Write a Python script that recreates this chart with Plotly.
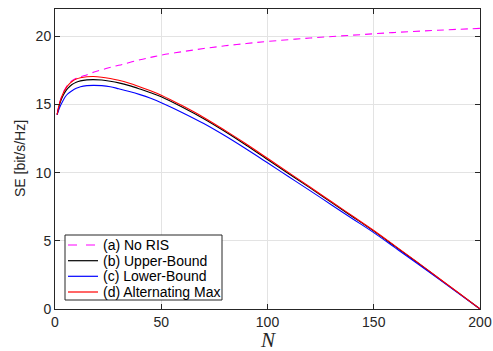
import plotly.graph_objects as go

# ---- data ----
N_no_ris = [1, 2, 3, 4, 5, 6, 8, 10, 12, 14, 17, 20, 24, 28, 32, 40, 45, 50, 60, 70, 80, 90, 100,
            120, 140, 160, 180, 200]
se_no_ris = [14.25, 15.02, 15.53, 15.92, 16.2, 16.43, 16.75, 16.93, 17.03, 17.12, 17.3, 17.45, 17.63,
             17.8, 17.95, 18.28, 18.45, 18.62, 18.87, 19.1, 19.3, 19.47, 19.62,
             19.87, 20.08, 20.28, 20.44, 20.58]

N_grid = [1, 2, 3, 4, 5, 6, 8, 10, 12, 15, 18, 22, 26, 30, 35, 40, 45, 50, 60, 70, 80, 90, 100,
          110, 120, 130, 140, 150, 160, 170, 180, 190, 200]
se_upper = [14.25, 14.92, 15.38, 15.72, 15.98, 16.18, 16.46, 16.63, 16.73, 16.8, 16.82, 16.79, 16.7,
            16.58, 16.38, 16.13, 15.86, 15.56, 14.79, 13.95, 13.01, 12.01, 10.96,
            9.92, 8.88, 7.82, 6.77, 5.71, 4.59, 3.46, 2.31, 1.16, 0.0]
se_lower = [14.25, 14.7, 15.05, 15.35, 15.6, 15.77, 16.0, 16.18, 16.3, 16.38, 16.4, 16.38, 16.3,
            16.15, 15.95, 15.72, 15.45, 15.13, 14.4, 13.6, 12.7, 11.73, 10.72,
            9.7, 8.68, 7.65, 6.62, 5.6, 4.5, 3.39, 2.27, 1.13, 0.0]
se_altmax = [14.25, 15.0, 15.5, 15.88, 16.15, 16.38, 16.68, 16.86, 16.96, 17.03, 17.05, 17.0, 16.9,
             16.77, 16.55, 16.28, 16.0, 15.68, 14.9, 14.05, 13.1, 12.1, 11.05,
             10.0, 8.95, 7.88, 6.82, 5.76, 4.63, 3.49, 2.33, 1.17, 0.0]

x_ticks = [0, 50, 100, 150, 200]
y_ticks = [0, 5, 10, 15, 20]

names = ["(a) No RIS", "(b) Upper-Bound", "(c) Lower-Bound", "(d) Alternating Max"]
colors = ["#ff00ff", "#000000", "#0000ff", "#ff0000"]
dashes = ["7px,5px", "solid", "solid", "solid"]
series = [(N_no_ris, se_no_ris), (N_grid, se_upper), (N_grid, se_lower), (N_grid, se_altmax)]

W, H = 493, 351
ML, MR, MT, MB = 55, 13, 9, 42
PW, PH = W - ML - MR, H - MT - MB

fig = go.Figure()
for (xs, ys), nm, c, d in zip(series, names, colors, dashes):
    fig.add_trace(go.Scatter(x=xs, y=ys, mode="lines", name=nm, showlegend=False,
                             line=dict(color=c, width=1.1, dash=d, shape="spline")))

# ---- manual legend (MATLAB-like compact box) ----
def px(xp):
    return (xp - ML) / PW

def py(yp):
    return (MT + PH - yp) / PH

shapes = [dict(type="rect", xref="paper", yref="paper",
               x0=px(65), x1=px(222), y0=py(300), y1=py(235),
               line=dict(color="#262626", width=1), fillcolor="white", layer="above")]
annotations = []
row_y = [245, 260.7, 276.3, 292]
for nm, c, d, ry in zip(names, colors, dashes, row_y):
    shapes.append(dict(type="line", xref="paper", yref="paper",
                       x0=px(68), x1=px(98), y0=py(ry), y1=py(ry),
                       line=dict(color=c, width=1.2, dash="dash" if d != "solid" else "solid"),
                       layer="above"))
    annotations.append(dict(text=nm, xref="paper", yref="paper", x=px(101), y=py(ry),
                            xanchor="left", yanchor="middle", showarrow=False,
                            font=dict(family="Liberation Sans, Arial, sans-serif", size=14,
                                      color="#000000")))

# axis titles as annotations (placed like the MATLAB labels)
annotations.append(dict(text="<i>N</i>", xref="paper", yref="paper", x=0.5, y=py(354),
                        xanchor="center", yanchor="bottom", showarrow=False,
                        font=dict(family="Liberation Serif, Times New Roman, serif", size=21,
                                  color="#262626")))
annotations.append(dict(text="SE [bit/s/Hz]", xref="paper", yref="paper", x=px(20), y=0.5,
                        xanchor="center", yanchor="middle", textangle=-90, showarrow=False,
                        font=dict(family="Liberation Sans, Arial, sans-serif", size=14,
                                  color="#262626")))

axis_common = dict(
    showline=True, linecolor="#262626", linewidth=1, mirror="ticks",
    ticks="inside", ticklen=5, tickcolor="#262626", tickwidth=1,
    showgrid=True, gridcolor="#e3e3e3", gridwidth=1, zeroline=False, automargin=False,
    tickfont=dict(family="Liberation Sans, Arial, sans-serif", size=14, color="#262626"),
)

fig.update_layout(
    width=W, height=H,
    margin=dict(l=ML, r=MR, t=MT, b=MB),
    paper_bgcolor="white", plot_bgcolor="white",
    showlegend=False,
    shapes=shapes, annotations=annotations,
    xaxis=dict(range=[0, 200], tickvals=x_ticks, **axis_common),
    yaxis=dict(range=[0, 22], tickvals=y_ticks, **axis_common),
)

fig.write_html("out.html")
